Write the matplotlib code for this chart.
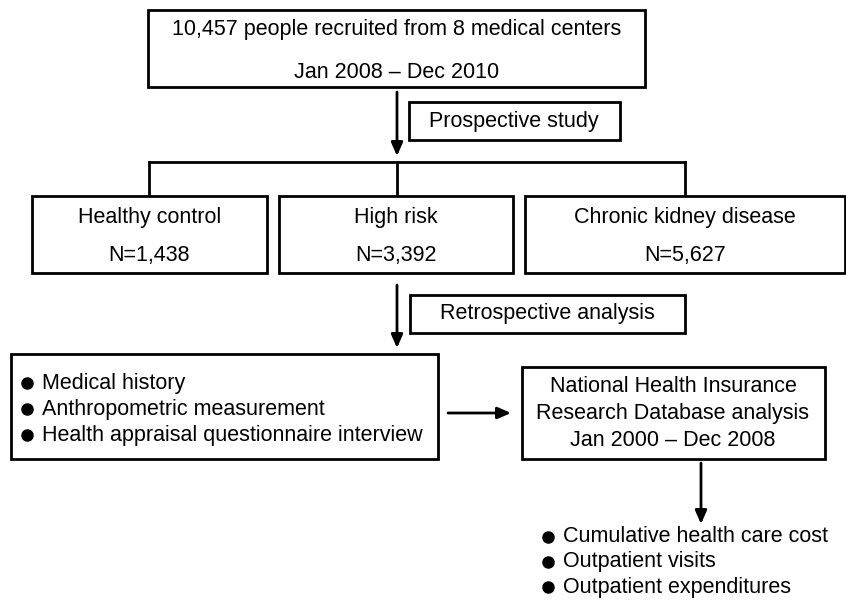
import matplotlib
matplotlib.use("Agg")
import matplotlib.pyplot as plt
from matplotlib.patches import Rectangle

# ==============================
# Texts of the flowchart
# ==============================
top_lines = ["10,457 people recruited from 8 medical centers", "Jan 2008 \u2013 Dec 2010"]
prospective_label = "Prospective study"
groups = ["Healthy control", "High risk", "Chronic kidney disease"]
group_n = [1438, 3392, 5627]
retrospective_label = "Retrospective analysis"
collected_items = ["Medical history", "Anthropometric measurement",
                   "Health appraisal questionnaire interview"]
nhird_lines = ["National Health Insurance", "Research Database analysis",
               "Jan 2000 \u2013 Dec 2008"]
outcomes = ["Cumulative health care cost", "Outpatient visits", "Outpatient expenditures"]

# ==============================
# Figure in pixel coordinates
# ==============================
W, H = 846, 601
fig = plt.figure(figsize=(W / 100, H / 100), dpi=100)
ax = fig.add_axes([0, 0, 1, 1])
ax.set_xlim(0, W)
ax.set_ylim(H, 0)
ax.axis("off")

plt.rcParams["font.family"] = ["Liberation Sans", "DejaVu Sans"]
FS = 15.5
LW = 2.0


def box(x0, y0, x1, y1):
    ax.add_patch(Rectangle((x0, y0), x1 - x0, y1 - y0, fill=False,
                           edgecolor="black", lw=LW, joinstyle="miter"))


def arrow(x0, y0, x1, y1):
    ax.annotate("", xy=(x1, y1), xytext=(x0, y0),
                arrowprops=dict(arrowstyle="-|>,head_length=0.8,head_width=0.35",
                                lw=LW, color="black", shrinkA=0, shrinkB=0,
                                mutation_scale=10))


def label(x, y, s, ha="center"):
    ax.text(x, y, s, ha=ha, va="center", fontsize=FS, color="black")


# top box
box(148, 10, 645, 87)
label(397, 30, top_lines[0])
label(397, 72, top_lines[1])

arrow(397, 92, 397, 156)
box(409, 102, 620, 140)
label(514, 121, prospective_label)

# branching line
centers = [149, 397, 685]
ax.plot([centers[0], centers[-1]], [162, 162], color="black", lw=LW, solid_capstyle="projecting")
for cx in centers:
    ax.plot([cx, cx], [162, 194], color="black", lw=LW)

# group boxes
group_boxes = [(32, 267), (279, 513), (525, 845)]
for (x0, x1), name, n in zip(group_boxes, groups, group_n):
    box(x0, 196, x1, 273)
    label((x0 + x1) / 2, 217, name)
    label((x0 + x1) / 2, 255, "N={:,}".format(n))

arrow(397, 285, 397, 348)
box(410, 295, 685, 333)
label(547, 314, retrospective_label)

# collected data box
box(11, 354, 438, 459)
for i, item in enumerate(collected_items):
    y = 383 + i * 26
    ax.plot(27, y, "o", color="black", markersize=8)
    label(42, y, item, ha="left")

arrow(448, 413, 511, 413)

# NHIRD box
box(522, 367, 825, 459)
for i, s in enumerate(nhird_lines):
    label(673, 387 + i * 26.5, s)

arrow(701, 463, 701, 524)
for i, item in enumerate(outcomes):
    y = 537 + i * 25
    ax.plot(548, y, "o", color="black", markersize=8)
    label(563, y, item, ha="left")

fig.savefig("out.png", dpi=100)
